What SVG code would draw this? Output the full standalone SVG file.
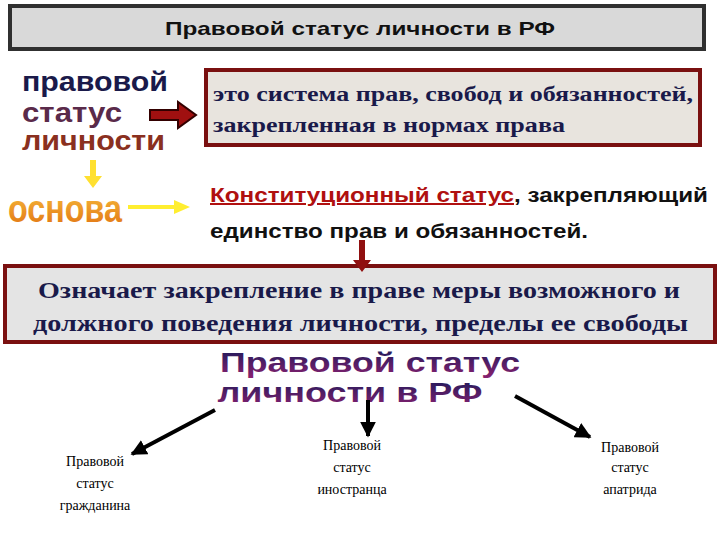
<svg xmlns="http://www.w3.org/2000/svg" width="720" height="540" viewBox="0 0 720 540">
<defs>
<style>
.a{font-family:"Liberation Sans",Arial,sans-serif}
.bx{font-weight:bold;fill:#1a1a4a}
.sm{font-size:14px;fill:#000;text-anchor:middle}
</style>
<linearGradient id="pg" x1="0" y1="0" x2="0" y2="1"><stop offset="0" stop-color="#1a1a5a"/><stop offset="1" stop-color="#8a2070"/></linearGradient>
<linearGradient id="og" x1="0" y1="0" x2="0" y2="1"><stop offset="0" stop-color="#f8c040"/><stop offset="1" stop-color="#e07010"/></linearGradient>
<marker id="bk" viewBox="0 0 10 10" refX="9" refY="5" markerWidth="4" markerHeight="4" orient="auto"><path d="M0,0L10,5L0,10z" fill="#000"/></marker>
</defs>
<rect width="720" height="540" fill="#fff"/>
<g id="title"><rect x="10" y="6" width="694" height="43" fill="#d9d9d9" stroke="#303030" stroke-width="4"/>
<text x="360" y="35" class="a" font-size="19" font-weight="bold" text-anchor="middle" fill="#111" textLength="390" lengthAdjust="spacingAndGlyphs">Правовой статус личности в РФ</text></g>
<g id="ps"><text x="22" y="91" class="a" font-size="27" font-weight="bold" fill="#1a1a4a" textLength="146" lengthAdjust="spacingAndGlyphs">правовой</text>
<text x="22" y="122" class="a" font-size="27" font-weight="bold" fill="#5a2a4a" textLength="100" lengthAdjust="spacingAndGlyphs">статус</text>
<text x="22" y="150" class="a" font-size="27" font-weight="bold" fill="#8a3020" textLength="143" lengthAdjust="spacingAndGlyphs">личности</text></g>
<g id="def" font-family="'Liberation Serif','DejaVu Serif',serif"><rect x="206" y="70" width="494" height="75" fill="#e8e4de" stroke="#7a1010" stroke-width="4"/>
<text x="213" y="101" class="bx" font-size="20" textLength="480" lengthAdjust="spacingAndGlyphs">это система прав, свобод и обязанностей,</text>
<text x="213" y="132" class="bx" font-size="20" textLength="352" lengthAdjust="spacingAndGlyphs">закрепленная в нормах права</text></g>
<g id="osnova"><text x="8" y="222" class="a" font-size="38" font-weight="bold" fill="url(#og)" textLength="114" lengthAdjust="spacingAndGlyphs">основа</text></g>
<g id="konst"><text x="210" y="202" class="a" font-size="20" font-weight="bold" textLength="498" lengthAdjust="spacingAndGlyphs"><tspan fill="#b01010" text-decoration="underline">Конституционный статус</tspan><tspan fill="#111">, закрепляющий</tspan></text>
<text x="210" y="238" class="a" font-size="20" font-weight="bold" fill="#111" textLength="378" lengthAdjust="spacingAndGlyphs">единство прав и обязанностей.</text></g>
<g id="mean" font-family="'Liberation Serif','DejaVu Serif',serif"><rect x="5" y="266" width="710" height="76" fill="#e4e4e4" stroke="#7a1010" stroke-width="4"/>
<text x="38" y="298" class="bx" font-size="23" textLength="642" lengthAdjust="spacingAndGlyphs">Означает закрепление в праве меры возможного и</text>
<text x="33" y="331" class="bx" font-size="23" textLength="655" lengthAdjust="spacingAndGlyphs">должного поведения личности, пределы ее свободы</text></g>
<g id="rf"><text x="370" y="372" class="a" font-size="27" font-weight="bold" fill="url(#pg)" text-anchor="middle" textLength="300" lengthAdjust="spacingAndGlyphs">Правовой статус</text>
<text x="350" y="402" class="a" font-size="27" font-weight="bold" fill="url(#pg)" text-anchor="middle" textLength="265" lengthAdjust="spacingAndGlyphs">личности в РФ</text></g>
<g font-family="'Liberation Serif','DejaVu Serif',serif">
<g id="c1" class="sm"><text x="95" y="466">Правовой</text><text x="95" y="488">статус</text><text x="95" y="510">гражданина</text></g>
<g id="c2" class="sm"><text x="352" y="450">Правовой</text><text x="352" y="472">статус</text><text x="352" y="494">иностранца</text></g>
<g id="c3" class="sm"><text x="630" y="452">Правовой</text><text x="630" y="472">статус</text><text x="630" y="494">апатрида</text></g>
</g>
<g id="connectors">
<path d="M150,110h28v-8l18,13l-18,13v-8h-28z" fill="#a01010" stroke="#300" stroke-width="2"/>
<path d="M90,160h6v16h6l-9,12l-9,-12h6z" fill="#ffe030"/>
<path d="M128,205h46v-5l16,7l-16,7v-5h-46z" fill="#ffee30"/>
<path d="M359,240h6v20h6l-9,12l-9,-12h6z" fill="#901010"/>
<line x1="215" y1="410" x2="132" y2="454" stroke="#000" stroke-width="4" marker-end="url(#bk)"/>
<line x1="368" y1="400" x2="368" y2="436" stroke="#000" stroke-width="4" marker-end="url(#bk)"/>
<line x1="515" y1="396" x2="590" y2="437" stroke="#000" stroke-width="4" marker-end="url(#bk)"/>
</g>
</svg>
